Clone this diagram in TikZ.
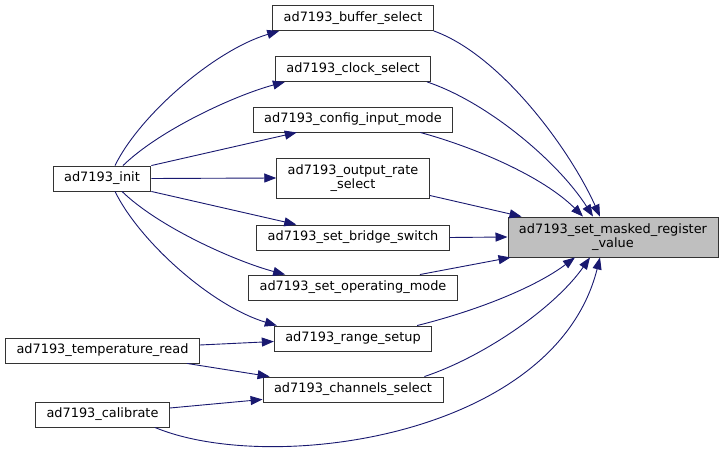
\documentclass[tikz,border=0pt]{standalone}
\usepackage{fontspec}
\setmainfont{DejaVu Sans}
\usepackage{xcolor}
\usetikzlibrary{arrows.meta}
\definecolor{edgeblue}{HTML}{191970}

\begin{document}
\begin{tikzpicture}[x=1pt,y=-1pt,
   fn/.style={draw=black!80,line width=0.9pt,fill=white,inner xsep=11pt,inner ysep=0pt,
      minimum height=25pt,align=center,font=\fontsize{12.9}{13.7}\selectfont},
   call/.style={edgeblue,line width=0.9pt,-{Triangle[length=12pt,width=9pt]}}]
   \useasboundingbox (0,0) rectangle (724,449);

   % Callers on the left
   \node[fn] (init) at (102,178.5) {ad7193\_init};
   \node[fn] (tempread) at (102.5,350.5) {ad7193\_temperature\_read};
   \node[fn] (calib) at (102.5,414.5) {ad7193\_calibrate};

   % Middle column
   \node[fn] (bufsel) at (353,18) {ad7193\_buffer\_select};
   \node[fn] (clksel) at (353,69) {ad7193\_clock\_select};
   \node[fn] (cfgmode) at (353,119.5) {ad7193\_config\_input\_mode};
   \node[fn,minimum height=40pt] (ratesel) at (353,178) {ad7193\_output\_rate\\\_select};
   \node[fn] (bridge) at (353,237.5) {ad7193\_set\_bridge\_switch};
   \node[fn] (opmode) at (353,287.5) {ad7193\_set\_operating\_mode};
   \node[fn] (range) at (353,338.5) {ad7193\_range\_setup};
   \node[fn] (chansel) at (353,389.5) {ad7193\_channels\_select};

   % The function itself
   \node[fn,fill=black!25,minimum height=40pt] (masked) at (613,237) {ad7193\_set\_masked\_register\\\_value};

   % ad7193_init
   \draw[call] ([xshift=13pt]init.north) .. controls +(25,-51) and +(-64,19) .. ([xshift=7pt]bufsel.south west);
   \draw[call] ([xshift=21pt]init.north) .. controls +(37,-36) and +(-49,13) .. ([xshift=10pt]clksel.south west);
   \draw[call] (init.north east) -- ([xshift=44pt]cfgmode.south west);
   \draw[call] (init.east) -- (ratesel.west);
   \draw[call] (init.south east) -- ([xshift=40pt]bridge.north west);
   \draw[call] ([xshift=20pt]init.south) .. controls +(37,36) and +(-49,-13) .. ([xshift=37pt]opmode.north west);
   \draw[call] ([xshift=13pt]init.south) .. controls +(25,51) and +(-64,-19) .. ([xshift=3pt]range.north west);

   % other callers
   \draw[call] ([yshift=5.5pt]tempread.east) -- ([yshift=-3pt]range.west);
   \draw[call] ([xshift=-13pt]tempread.south east) -- ([xshift=7pt]chansel.north west);
   \draw[call] ([yshift=6.5pt]calib.east) -- ([yshift=3pt]chansel.south west);
   \draw[call] ([xshift=-15pt]calib.south east) .. controls +(115,48) and +(-45,180) .. ([xshift=-13pt]masked.south);

   % into ad7193_set_masked_register_value
   \draw[call] (bufsel.south east) .. controls +(67,24) and +(-30,-67) .. ([xshift=-13pt]masked.north);
   \draw[call] ([xshift=-4pt]clksel.south east) .. controls +(60,20) and +(-35,-55) .. ([xshift=-20pt]masked.north);
   \draw[call] ([xshift=-33pt]cfgmode.south east) .. controls +(55,15) and +(-40,-40) .. ([xshift=-30pt]masked.north);
   \draw[call] ([yshift=3pt]ratesel.south east) -- ([xshift=14pt]masked.north west);
   \draw[call] (bridge.east) -- (masked.west);
   \draw[call] ([xshift=-38pt]opmode.north east) -- ([xshift=3pt]masked.south west);
   \draw[call] ([xshift=-15pt]range.north east) .. controls +(60,-15) and +(-40,30) .. ([xshift=-38pt]masked.south);
   \draw[call] ([xshift=-19pt]chansel.north east) .. controls +(60,-20) and +(-35,50) .. ([xshift=-23pt]masked.south);
\end{tikzpicture}
\end{document}
